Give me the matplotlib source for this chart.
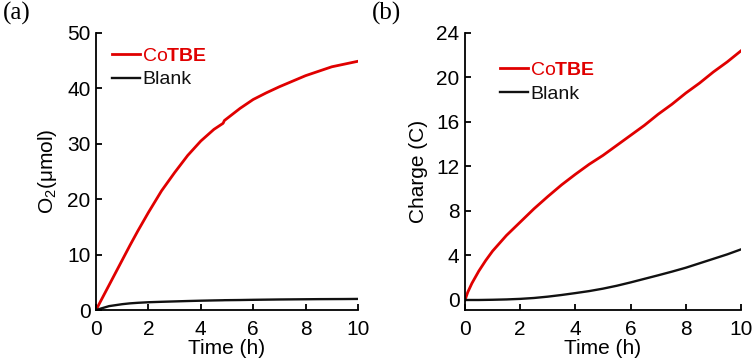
import matplotlib
matplotlib.use("Agg")
import matplotlib.pyplot as plt

plt.rcParams['font.family'] = ['Liberation Sans', 'DejaVu Sans']
plt.rcParams['mathtext.fontset'] = 'custom'
plt.rcParams['mathtext.rm'] = 'Liberation Sans'
plt.rcParams['mathtext.it'] = 'Liberation Sans:italic'
plt.rcParams['mathtext.bf'] = 'Liberation Sans:bold'

# Panel (a): O2 evolution
t_a = [0, 0.5, 1.0, 1.3, 1.6, 2.0, 2.5, 3.0, 3.5, 4.0, 4.5, 4.85, 4.9, 5.5, 6.0, 6.5, 7.0, 7.5, 8.0, 8.5, 9.0, 9.5, 10.0]
o2_cotbe = [0, 4.5, 9.0, 11.7, 14.3, 17.6, 21.5, 24.8, 27.9, 30.5, 32.6, 33.7, 34.2, 36.4, 38.0, 39.2, 40.3, 41.3, 42.3, 43.1, 43.9, 44.4, 44.9]
o2_blank = [0, 0.7, 1.05, 1.2, 1.3, 1.4, 1.48, 1.55, 1.62, 1.68, 1.73, 1.76, 1.77, 1.8, 1.84, 1.87, 1.9, 1.92, 1.94, 1.96, 1.97, 1.98, 2.0]

# Panel (b): charge passed
t_b = [0, 0.1, 0.25, 0.5, 0.75, 1.0, 1.5, 2.0, 2.5, 3.0, 3.5, 4.0, 4.5, 5.0, 5.5, 6.0, 6.5, 7.0, 7.5, 8.0, 8.5, 9.0, 9.5, 10.0]
q_cotbe = [0, 0.7, 1.5, 2.6, 3.55, 4.4, 5.8, 7.0, 8.2, 9.3, 10.35, 11.3, 12.2, 13.0, 13.9, 14.8, 15.7, 16.7, 17.6, 18.6, 19.5, 20.5, 21.4, 22.4]
q_blank = [0, 0, 0, 0, 0.01, 0.02, 0.05, 0.1, 0.18, 0.3, 0.45, 0.62, 0.8, 1.02, 1.28, 1.58, 1.9, 2.22, 2.55, 2.9, 3.3, 3.7, 4.1, 4.55]

labels = ['Co$\\mathbf{TBE}$', 'Blank']
RED = '#e00000'
BLACK = '#111111'

fig = plt.figure(figsize=(7.54, 3.62), dpi=100)
axa = fig.add_axes([96/754, 1-310/362, 262/754, 277/362])
axb = fig.add_axes([465/754, 1-310/362, 276/754, 277/362])

def style(ax):
    for s in ['top', 'right']:
        ax.spines[s].set_visible(False)
    for s in ['left', 'bottom']:
        ax.spines[s].set_linewidth(1.3)
    ax.tick_params(direction='in', length=4, width=1.3, labelsize=15, pad=4)
    ax.tick_params(axis='x', pad=7)

axa.plot(t_a, o2_cotbe, color=RED, lw=2.0, label=labels[0])
axa.plot(t_a, o2_blank, color=BLACK, lw=1.7, label=labels[1])
axa.set_xlim(0, 10)
axa.set_ylim(0, 50)
axa.set_xticks([0, 2, 4, 6, 8, 10])
axa.set_yticks([0, 10, 20, 30, 40, 50])
axa.set_xlabel('Time (h)', fontsize=15, labelpad=0)
axa.set_ylabel('O$_2$(μmol)', fontsize=15, labelpad=6)
style(axa)
axa.legend(loc='upper left', bbox_to_anchor=(0.061, 0.948), frameon=False,
           fontsize=14, handlelength=1.45, handletextpad=0.1, labelspacing=0.3,
           borderpad=0, borderaxespad=0, labelcolor='linecolor')

axb.plot(t_b, q_cotbe, color=RED, lw=2.0, label=labels[0])
axb.plot(t_b, q_blank, color=BLACK, lw=1.7, label=labels[1])
axb.set_xlim(0, 10)
axb.set_ylim(-0.9, 24)
axb.set_xticks([0, 2, 4, 6, 8, 10])
axb.set_yticks([0, 4, 8, 12, 16, 20, 24])
axb.set_xlabel('Time (h)', fontsize=15, labelpad=0)
axb.set_ylabel('Charge (C)', fontsize=15, labelpad=6)
style(axb)
axb.legend(loc='upper left', bbox_to_anchor=(0.127, 0.897), frameon=False,
           fontsize=14, handlelength=1.45, handletextpad=0.1, labelspacing=0.3,
           borderpad=0, borderaxespad=0, labelcolor='linecolor')

fig.text(3/754, 1-2/362, '(a)', fontsize=18, family='Liberation Serif', va='top', ha='left')
fig.text(372/754, 1-2/362, '(b)', fontsize=18, family='Liberation Serif', va='top', ha='left')

fig.savefig('out.png', dpi=100)
